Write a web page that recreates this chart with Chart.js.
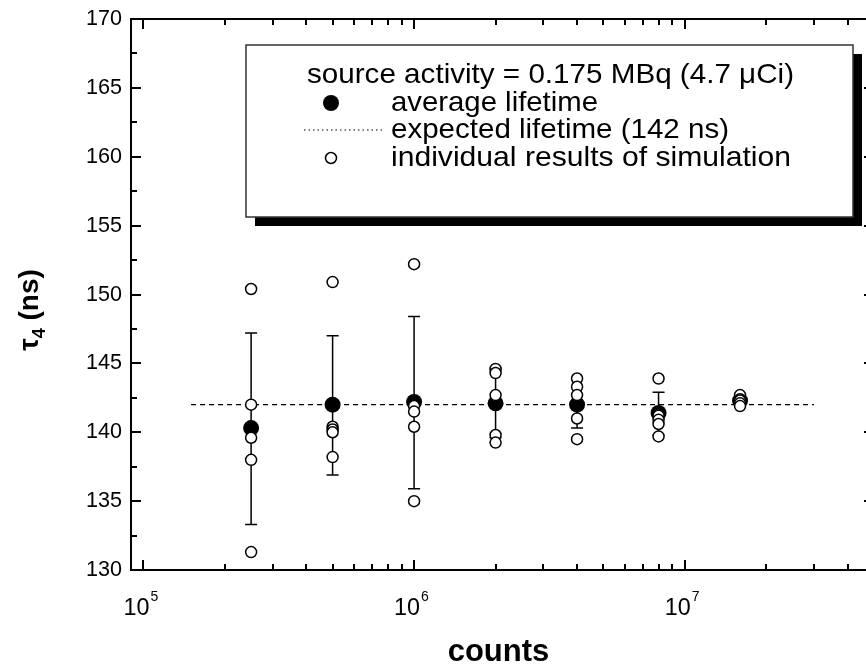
<!DOCTYPE html>
<html>
<head>
<meta charset="utf-8">
<script src="https://cdn.jsdelivr.net/npm/chart.js@4.4.1/dist/chart.umd.min.js"></script>
<style>
  html, body { margin: 0; padding: 0; background: #fff; overflow: hidden; }
  #wrap { width: 866px; height: 668px; overflow: hidden; position: relative; }
  canvas { position: absolute; left: 0; top: 0; }
</style>
</head>
<body>
<div id="wrap"><canvas id="chart" width="900" height="668"></canvas></div>
<script>
// counts per run and the lifetimes (ns)
const counts = [2.5e5, 5e5, 1e6, 2e6, 4e6, 8e6, 1.6e7];
const avgLifetime = [140.3, 142.0, 142.2, 142.1, 142.0, 141.4, 142.3];
const errLow  = [133.3, 136.9, 135.9, 139.6, 140.3, 139.8, 142.0];
const errHigh = [147.2, 147.0, 148.4, 144.6, 143.9, 142.9, 142.6];

const sim250k = [150.4, 142.0, 139.6, 138.0, 131.3];
const sim500k = [150.9, 140.4, 140.2, 140.0, 138.2];
const sim1M   = [152.2, 141.9, 141.5, 140.4, 135.0];
const sim2M   = [144.6, 144.3, 142.7, 139.8, 139.25];
const sim4M   = [143.9, 143.3, 142.7, 141.0, 139.5];
const sim8M   = [143.9, 141.2, 140.9, 140.6, 139.7];
const sim16M  = [142.7, 142.4, 142.3, 142.1, 141.9];

const expectedX = [1.5e5, 3e7];
const expectedLifetime = 142;

const yTicks = [130, 135, 140, 145, 150, 155, 160, 165, 170];
const xDecades = [5, 6, 7];

const FONT = '"Liberation Sans", Arial, sans-serif';

const simResults = [sim250k, sim500k, sim1M, sim2M, sim4M, sim8M, sim16M];
const openPoints = [];
simResults.forEach((vals, i) => vals.forEach(v => openPoints.push({ x: counts[i], y: v })));
const avgPoints = counts.map((c, i) => ({ x: c, y: avgLifetime[i] }));
const linePoints = expectedX.map(c => ({ x: c, y: expectedLifetime }));

// draws text squeezed/stretched to a given width (left aligned)
function fitText(ctx, text, x, y, width) {
  const w = ctx.measureText(text).width;
  ctx.save();
  ctx.textAlign = 'left';
  ctx.translate(x, y);
  ctx.scale(width / w, 1);
  ctx.fillText(text, 0, 0);
  ctx.restore();
}

const errorBars = {
  id: 'errorBars',
  beforeDatasetsDraw(chart) {
    const { ctx, scales: { x, y } } = chart;
    ctx.save();
    ctx.strokeStyle = '#000';
    ctx.lineWidth = 1.5;
    counts.forEach((c, i) => {
      const px = x.getPixelForValue(c);
      const top = y.getPixelForValue(errHigh[i]);
      const bot = y.getPixelForValue(errLow[i]);
      ctx.beginPath();
      ctx.moveTo(px, top); ctx.lineTo(px, bot);
      ctx.moveTo(px - 6, top); ctx.lineTo(px + 6, top);
      ctx.moveTo(px - 6, bot); ctx.lineTo(px + 6, bot);
      ctx.stroke();
    });
    ctx.restore();
  }
};

const frame = {
  id: 'frame',
  afterDraw(chart) {
    const { ctx, chartArea: a, scales: { x, y } } = chart;
    ctx.save();
    ctx.strokeStyle = '#000';
    ctx.fillStyle = '#000';

    // axis box
    ctx.lineWidth = 2;
    ctx.strokeRect(a.left, a.top, a.right - a.left, a.bottom - a.top);

    // y ticks, inward on both sides
    for (let v = y.min; v <= y.max + 0.01; v += 2.5) {
      const py = Math.round(y.getPixelForValue(v));
      const len = v % 5 === 0 ? 10 : 6;
      ctx.beginPath();
      ctx.moveTo(a.left, py); ctx.lineTo(a.left + len, py);
      ctx.moveTo(a.right, py); ctx.lineTo(a.right - len, py);
      ctx.stroke();
    }
    // x ticks (log), inward top and bottom
    for (let e = 4; e <= 7; e++) {
      for (let m = 1; m <= 9; m++) {
        const v = m * Math.pow(10, e);
        if (v <= x.min || v >= x.max) continue;
        const px = Math.round(x.getPixelForValue(v));
        const len = m === 1 ? 10 : 6;
        ctx.beginPath();
        ctx.moveTo(px, a.bottom); ctx.lineTo(px, a.bottom - len);
        ctx.moveTo(px, a.top); ctx.lineTo(px, a.top + len);
        ctx.stroke();
      }
    }

    // y tick labels
    ctx.font = '22px ' + FONT;
    ctx.textBaseline = 'middle';
    yTicks.forEach(v => fitText(ctx, String(v), a.left - 45, y.getPixelForValue(v), 36));

    // x tick labels 10^n
    ctx.textBaseline = 'alphabetic';
    ctx.textAlign = 'left';
    xDecades.forEach(e => {
      const px = x.getPixelForValue(Math.pow(10, e));
      ctx.font = '24px ' + FONT;
      fitText(ctx, '10', px - 20, 615, 26);
      ctx.font = '14px ' + FONT;
      ctx.fillText(String(e), px + 7, 601);
    });

    // axis titles
    ctx.font = 'bold 31px ' + FONT;
    ctx.textAlign = 'center';
    ctx.fillText('counts', (a.left + a.right) / 2 - 4, 661);

    ctx.save();
    ctx.translate(38, 310);
    ctx.rotate(-Math.PI / 2);
    ctx.textAlign = 'left';
    const big = 'bold 28px ' + FONT, small = 'bold 18px ' + FONT;
    ctx.font = big; const wt = ctx.measureText('\u03c4').width; const wr = ctx.measureText(' (ns)').width;
    ctx.font = small; const ws = ctx.measureText('4').width;
    let sx = -(wt + ws + wr) / 2;
    ctx.font = big; ctx.fillText('\u03c4', sx, 0); sx += wt;
    ctx.font = small; ctx.fillText('4', sx, 7); sx += ws;
    ctx.font = big; ctx.fillText(' (ns)', sx, 0);
    ctx.restore();

    // legend box with shadow
    const bx = 246, by = 45, bw = 607, bh = 172;
    ctx.fillStyle = '#000';
    ctx.fillRect(bx + 9, by + 9, bw, bh);
    ctx.fillStyle = '#fff';
    ctx.fillRect(bx, by, bw, bh);
    ctx.lineWidth = 1.5;
    ctx.strokeStyle = '#333';
    ctx.strokeRect(bx, by, bw, bh);

    ctx.fillStyle = '#000';
    ctx.font = '28px ' + FONT;
    ctx.textBaseline = 'middle';
    fitText(ctx, 'source activity = 0.175 MBq (4.7 \u03bcCi)', 307, 75, 487);
    fitText(ctx, 'average lifetime', 391, 103, 207);
    fitText(ctx, 'expected lifetime (142 ns)', 391, 130, 338);
    fitText(ctx, 'individual results of simulation', 391, 158, 400);

    ctx.beginPath();
    ctx.arc(331, 103, 8, 0, Math.PI * 2);
    ctx.fill();
    ctx.strokeStyle = '#000';
    ctx.lineWidth = 1.2;
    ctx.setLineDash([1.5, 3]);
    ctx.beginPath();
    ctx.moveTo(304, 130); ctx.lineTo(382, 130);
    ctx.stroke();
    ctx.setLineDash([]);
    ctx.lineWidth = 1.5;
    ctx.fillStyle = '#fff';
    ctx.beginPath();
    ctx.arc(331, 158, 5.5, 0, Math.PI * 2);
    ctx.fill(); ctx.stroke();

    ctx.restore();
  }
};

new Chart(document.getElementById('chart'), {
  type: 'scatter',
  data: {
    datasets: [
      {
        label: 'individual results of simulation',
        data: openPoints,
        pointStyle: 'circle',
        pointRadius: 5.5,
        borderWidth: 1.5,
        borderColor: '#000',
        backgroundColor: '#fff',
        order: 0
      },
      {
        label: 'average lifetime',
        data: avgPoints,
        pointStyle: 'circle',
        pointRadius: 8,
        borderWidth: 0,
        backgroundColor: '#000',
        order: 1
      },
      {
        type: 'line',
        label: 'expected lifetime (142 ns)',
        data: linePoints,
        borderColor: '#000',
        borderWidth: 1.2,
        borderDash: [5, 4],
        pointRadius: 0,
        fill: false,
        order: 2
      }
    ]
  },
  options: {
    responsive: false,
    animation: false,
    events: [],
    layout: { padding: { left: 131, top: 19, right: 26, bottom: 98 } },
    plugins: { legend: { display: false }, tooltip: { enabled: false } },
    scales: {
      x: { type: 'logarithmic', min: 9e4, max: 5e7, display: false },
      y: { type: 'linear', min: 130, max: 170, display: false }
    }
  },
  plugins: [errorBars, frame]
});
</script>
</body>
</html>
